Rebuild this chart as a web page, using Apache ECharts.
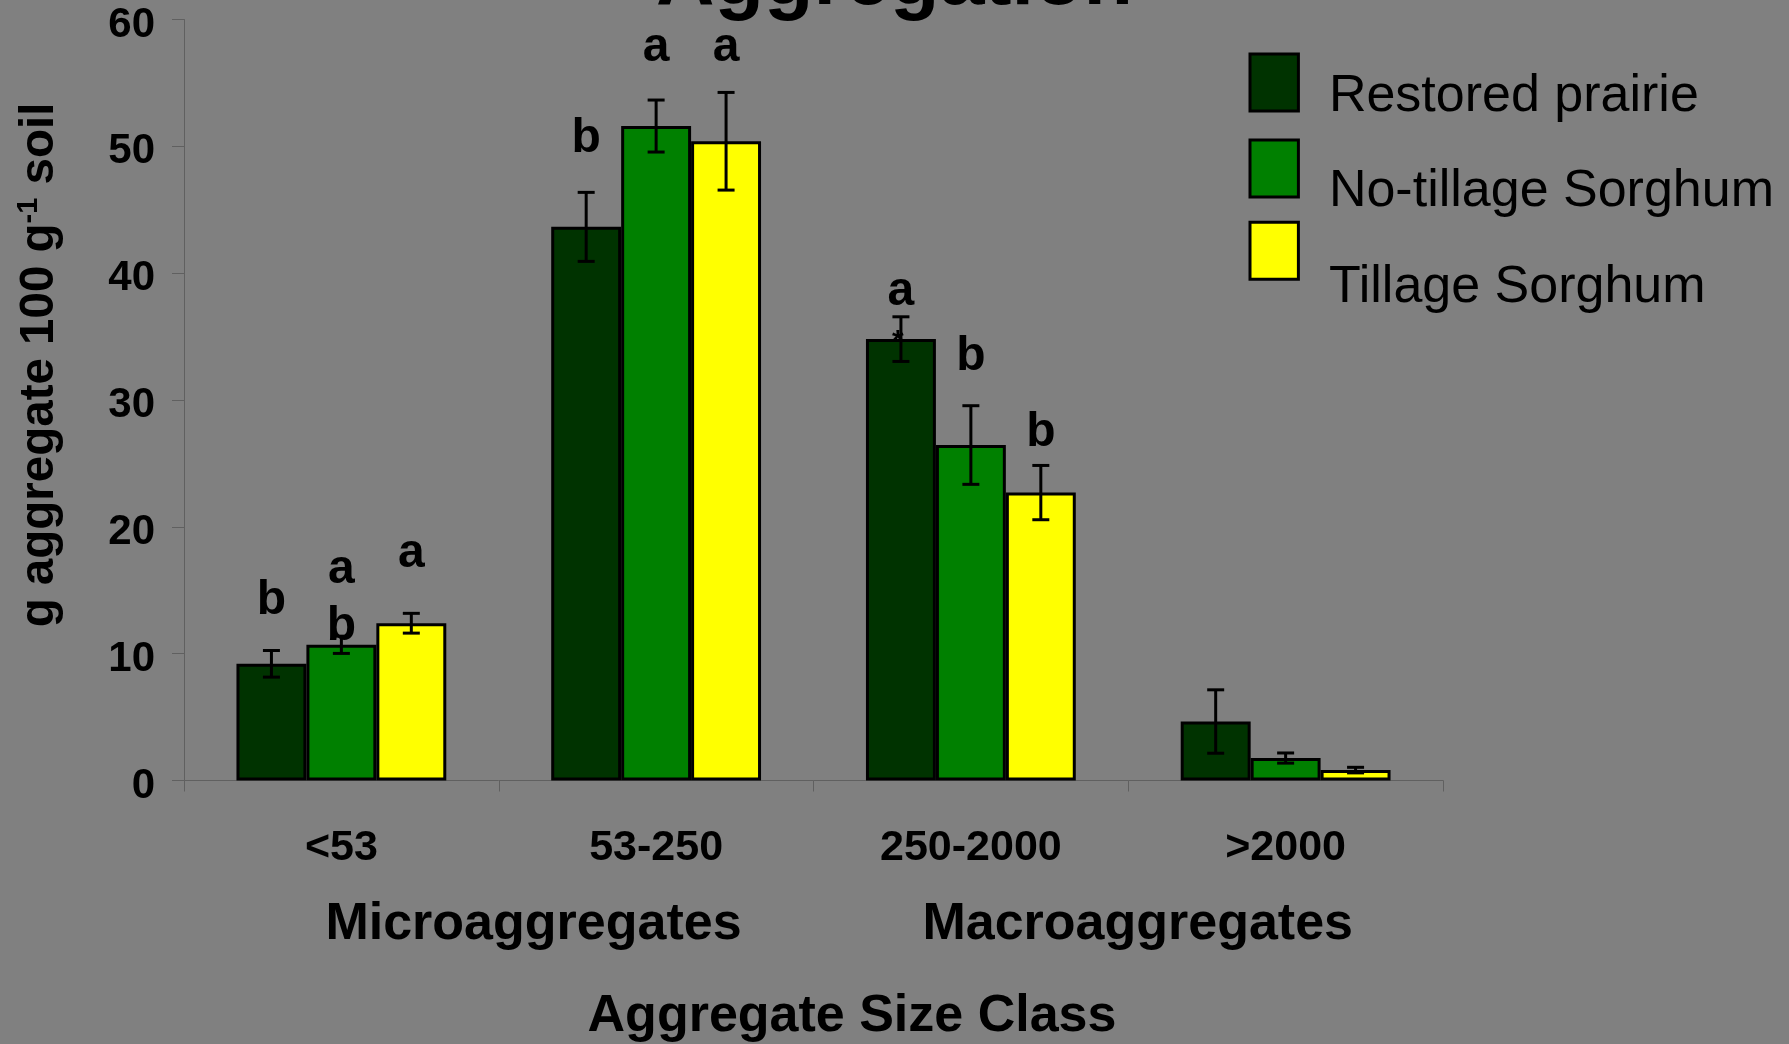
<!DOCTYPE html>
<html><head><meta charset="utf-8">
<script src="https://cdn.jsdelivr.net/npm/echarts@6/dist/echarts.min.js"></script>
<style>html,body{margin:0;padding:0;background:#808080}#c{width:1789px;height:1044px}</style>
</head><body><div id="c"></div>
<script>
const categories = ['<53', '53-250', '250-2000', '>2000'];
const seriesNames = ['Restored prairie', 'No-tillage Sorghum', 'Tillage Sorghum'];
const seriesColors = ['#003300', '#008000', '#ffff00'];
const restoredPrairie = [9.2, 43.65, 34.8, 4.65];
const noTillage = [10.7, 51.6, 26.45, 1.77];
const tillage = [12.4, 50.4, 22.7, 0.82];
const restoredPrairieErr = [1.05, 2.72, 1.76, 2.5];
const noTillageErr = [0.68, 2.05, 3.1, 0.4];
const tillageErr = [0.78, 3.85, 2.14, 0.22];
const yMin = 0, yMax = 60, yStep = 10;
// significance letters: [category index, series index, y value, text]
const letters = [
  [0, 0, 14.2, 'b'], [0, 1, 16.65, 'a'], [0, 1, 12.15, 'b'], [0, 2, 17.85, 'a'],
  [1, 0, 50.6, 'b'], [1, 1, 57.8, 'a'], [1, 2, 57.8, 'a'],
  [2, 0, 38.5, 'a'], [2, 1, 33.4, 'b'], [2, 2, 27.4, 'b']
];
const asterisks = [[2, 0, 34.6, '*']];
const groupLabels = ['Microaggregates', 'Macroaggregates'];
const titleText = 'Aggregation';
const xTitle = 'Aggregate Size Class';

const values = [restoredPrairie, noTillage, tillage];
const errs = [restoredPrairieErr, noTillageErr, tillageErr];
const FONT = 'Liberation Sans';
const GAP = 1 / 3;

function barX(api, cat, s) {
  const c = api.coord([cat, 0])[0];
  const band = api.size([1, 0])[0];
  const bw = band * (1 - GAP) / 3;
  return c + (s - 1) * bw;
}

const errData = [];
values.forEach((arr, s) => arr.forEach((v, i) => errData.push([i, s, v, errs[s][i]])));

const chart = echarts.init(document.getElementById('c'), null, {renderer: 'canvas'});
const legendTops = [30.5, 116.5, 188.1];
const legendShift = [27.4, 45.8, 73.2];

chart.setOption({
  backgroundColor: '#808080',
  animation: false,
  textStyle: {fontFamily: FONT},
  grid: {left: 184, right: 346, top: 19.5, bottom: 263.5, containLabel: false, outerBoundsMode: 'none'},
  legend: seriesNames.map((n, k) => ({
    data: [n], orient: 'vertical', left: 1248.5, top: legendTops[k], padding: 0,
    itemWidth: 48.4, itemHeight: 57, icon: 'rect', selectedMode: false,
    itemStyle: {borderColor: '#000', borderWidth: 3},
    formatter: function (name) { return '\n{t|' + name + '}'; },
    textStyle: {fontSize: 52, fontFamily: FONT, color: '#000', lineHeight: legendShift[k],
      padding: [0, 0, 0, 25.5],
      rich: {t: {fontSize: 52, fontFamily: FONT, color: '#000', lineHeight: 52}}}
  })),
  xAxis: {
    type: 'category', data: categories,
    axisLine: {lineStyle: {color: '#606060', width: 1}},
    axisTick: {show: true, length: 11, lineStyle: {color: '#606060'}},
    axisLabel: {fontSize: 43, fontWeight: 'bold', color: '#000', margin: 46.5, fontFamily: FONT}
  },
  yAxis: {
    type: 'value', min: yMin, max: yMax, interval: yStep,
    axisLine: {show: true, lineStyle: {color: '#606060', width: 1}},
    axisTick: {show: true, length: 12, lineStyle: {color: '#606060'}},
    splitLine: {show: false},
    axisLabel: {fontSize: 42, fontWeight: 'bold', color: '#000', margin: 29,
      verticalAlign: 'top', lineHeight: 11, fontFamily: FONT}
  },
  series: [
    ...seriesNames.map((n, s) => ({
      name: n, type: 'bar', data: values[s],
      barGap: '0%', barCategoryGap: '33.333%',
      itemStyle: {color: seriesColors[s], borderColor: '#000', borderWidth: 3},
      z: 2
    })),
    {
      type: 'custom', name: 'errors', data: errData, encode: {x: 0, y: 2}, z: 5,
      renderItem: function (params, api) {
        const i = api.value(0), s = api.value(1), v = api.value(2), e = api.value(3);
        const x = barX(api, i, s);
        const yt = api.coord([i, v + e])[1];
        const yb = api.coord([i, v - e])[1];
        const cap = 8.5;
        const st = {stroke: '#000', lineWidth: 3};
        return {type: 'group', children: [
          {type: 'line', shape: {x1: x, y1: yt, x2: x, y2: yb}, style: st},
          {type: 'line', shape: {x1: x - cap, y1: yt, x2: x + cap, y2: yt}, style: st},
          {type: 'line', shape: {x1: x - cap, y1: yb, x2: x + cap, y2: yb}, style: st}
        ]};
      }
    },
    {
      type: 'custom', name: 'letters', data: letters.map(l => [l[0], l[1], l[2]]), encode: {x: 0, y: 2}, z: 6,
      renderItem: function (params, api) {
        const l = letters[params.dataIndex];
        const x = barX(api, l[0], l[1]);
        const y = api.coord([l[0], l[2]])[1];
        return {type: 'text', x: x, y: y, style: {text: l[3], fill: '#000',
          font: 'bold 48px "' + FONT + '"', align: 'center', verticalAlign: 'middle'}};
      }
    },
    {
      type: 'custom', name: 'asterisks', data: asterisks.map(l => [l[0], l[1], l[2]]), encode: {x: 0, y: 2}, z: 6,
      renderItem: function (params, api) {
        const l = asterisks[params.dataIndex];
        const x = barX(api, l[0], l[1]);
        const y = api.coord([l[0], l[2]])[1];
        return {type: 'text', x: x - 3, y: y, style: {text: l[3], fill: '#000',
          font: 'bold 30px "' + FONT + '"', align: 'center', verticalAlign: 'middle'}};
      }
    }
  ],
  graphic: [
    {type: 'text', x: 894.5, y: -18, z: 10, style: {text: titleText, fill: '#000',
      font: 'bold 81px "' + FONT + '"', align: 'center', verticalAlign: 'middle'}},
    {type: 'text', x: 533.5, y: 924.5, style: {text: groupLabels[0], fill: '#000',
      font: 'bold 52px "' + FONT + '"', align: 'center', verticalAlign: 'middle'}},
    {type: 'text', x: 1137.7, y: 924.5, style: {text: groupLabels[1], fill: '#000',
      font: 'bold 52px "' + FONT + '"', align: 'center', verticalAlign: 'middle'}},
    {type: 'text', x: 852, y: 1017, style: {text: xTitle, fill: '#000',
      font: 'bold 52px "' + FONT + '"', align: 'center', verticalAlign: 'middle'}},
    {type: 'text', x: 40, y: 365, rotation: Math.PI / 2, style: {
      text: '{m|g aggregate 100 g}{s|-1}{m| soil}', fill: '#000', align: 'center', verticalAlign: 'middle',
      rich: {
        m: {fontSize: 47.5, fontWeight: 'bold', fontFamily: FONT, lineHeight: 52, fill: '#000'},
        s: {fontSize: 29, fontWeight: 'bold', fontFamily: FONT, lineHeight: 52, verticalAlign: 'top', fill: '#000'}
      }}}
  ]
});
</script>
</body></html>
